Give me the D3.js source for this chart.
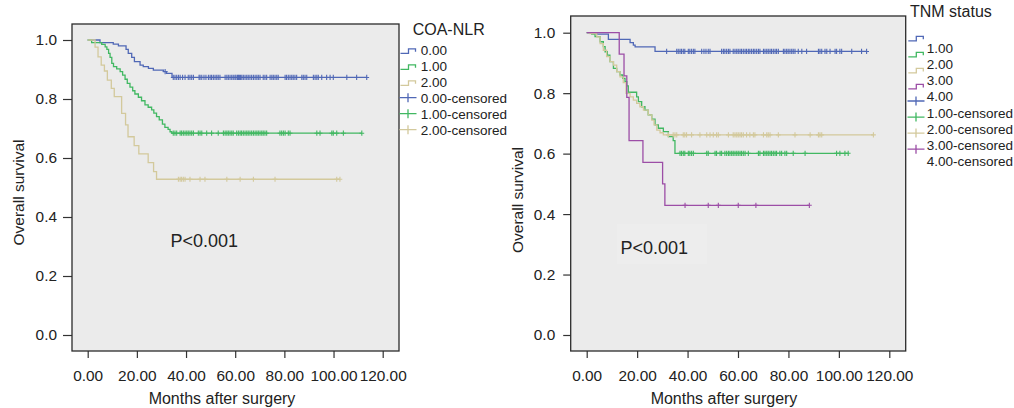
<!DOCTYPE html>
<html>
<head>
<meta charset="utf-8">
<script src="https://cdn.jsdelivr.net/npm/d3@7"></script>
<style>
  body { margin: 0; background: #fff; }
  svg { display: block; font-family: "Liberation Sans", Arial, sans-serif; }
</style>
</head>
<body>
<div id="chart"></div>
<script>
// axis ticks
const monthTicks = [0, 20, 40, 60, 80, 100, 120];
const survTicks = [0, 0.2, 0.4, 0.6, 0.8, 1.0];

// left panel: COA-NLR
const coaLabels = ["0.00", "1.00", "2.00"];
const coa0Time = [5.0, 10.4, 12.5, 15.6, 16.5, 17.9, 19.0, 21.3, 22.6, 24.7, 26.7, 30.8, 32.1, 34.3];
const coa0Surv = [0.991, 0.986, 0.980, 0.968, 0.955, 0.941, 0.927, 0.915, 0.910, 0.904, 0.898, 0.893, 0.887, 0.873];
const coa0Cens = [31.5, 34.8, 35.5, 36.2, 36.9, 37.6, 38.6, 39.6, 40.9, 41.6, 42.3, 43.0, 45.3, 45.7, 46.4, 47.3, 48.1, 49.1,
  49.8, 50.4, 51.1, 51.8, 52.5, 53.1, 53.8, 55.9, 56.6, 57.2, 57.9, 58.6, 59.2, 59.9, 60.3, 60.9, 61.3, 61.7, 62.2,
  62.7, 63.3, 64.0, 64.7, 65.3, 66.0, 66.7, 67.4, 68.1, 68.8, 69.4, 70.1, 71.4, 72.1, 72.8, 74.2, 74.9, 75.5, 76.2,
  76.9, 77.5, 80.3, 80.9, 81.6, 82.3, 83.0, 83.6, 84.3, 85.0, 87.1, 87.7, 88.4, 89.1, 91.8, 92.5, 93.2, 93.8, 95.2,
  97.2, 98.6, 99.9, 105.4, 109.4, 113.5];

const coa1Time = [1.6, 5.7, 7.1, 7.8, 8.5, 9.1, 9.8, 10.5, 11.8, 13.2, 14.2, 15.2, 16.1, 17.2, 18.3, 19.2, 20.6, 21.9,
  23.3, 24.6, 26.0, 26.9, 28.0, 29.1, 30.4, 31.4, 32.7, 33.5, 34.2];
const coa1Surv = [0.991, 0.985, 0.977, 0.968, 0.955, 0.941, 0.921, 0.910, 0.902, 0.893, 0.881, 0.867, 0.853, 0.840, 0.828,
  0.817, 0.806, 0.794, 0.780, 0.772, 0.763, 0.752, 0.740, 0.729, 0.715, 0.704, 0.697, 0.689, 0.684];
const coa1Cens = [34.8, 35.5, 36.2, 37.6, 38.2, 38.9, 39.6, 40.3, 40.9, 41.6, 42.3, 43.0, 45.0, 45.7, 46.4, 48.4, 50.4,
  53.1, 55.2, 55.9, 56.6, 57.2, 57.9, 58.6, 59.2, 60.6, 61.3, 62.0, 62.6, 63.3, 64.0, 64.7, 65.3, 66.0, 66.7, 67.4,
  68.1, 68.8, 69.4, 70.1, 70.8, 71.4, 72.1, 72.8, 78.2, 78.9, 79.6, 80.3, 81.6, 82.3, 93.2, 94.5, 99.3, 99.9, 101.3,
  104.0, 111.5];

const coa2Time = [3.0, 4.2, 5.5, 6.8, 8.0, 9.6, 10.8, 13.8, 15.4, 16.4, 18.9, 20.8, 24.6, 26.8, 28.0];
const coa2Surv = [0.976, 0.943, 0.915, 0.895, 0.864, 0.836, 0.808, 0.751, 0.712, 0.672, 0.642, 0.614, 0.584, 0.554, 0.528];
const coa2Cens = [36.9, 37.6, 38.2, 38.9, 39.6, 41.6, 45.7, 47.7, 56.6, 62.0, 67.4, 76.2, 101.3, 102.6];

// right panel: TNM status
const tnmLabels = ["1.00", "2.00", "3.00", "4.00"];
const tnm1Time = [4.0, 8.6, 17.2, 18.5, 19.2, 27.1];
const tnm1Surv = [0.995, 0.978, 0.967, 0.959, 0.953, 0.938];
const tnm1Cens = [31.7, 35.7, 36.3, 37.0, 37.6, 38.3, 38.9, 40.3, 40.9, 41.6, 42.3, 42.9, 45.6, 46.5, 47.3, 48.2, 48.9,
  53.5, 54.2, 54.8, 55.5, 56.2, 56.8, 58.1, 58.8, 59.5, 60.1, 60.8, 61.4, 62.1, 62.8, 63.4, 64.1, 64.7, 65.4, 66.1,
  66.7, 67.4, 68.1, 68.7, 70.1, 70.7, 71.4, 72.0, 72.7, 73.3, 74.0, 74.7, 75.3, 76.0, 78.0, 78.6, 79.3, 79.9, 80.6,
  81.3, 81.9, 82.6, 83.9, 85.3, 87.2, 91.9, 92.5, 93.2, 94.5, 95.2, 96.5, 98.5, 99.1, 100.4, 101.1, 105.1, 109.0, 111.0];

const tnm2Time = [2.0, 3.3, 5.3, 6.6, 7.3, 8.2, 9.2, 10.6, 11.9, 13.2, 14.3, 15.2, 15.9, 16.5, 19.8, 20.5, 21.8, 23.1,
  24.4, 25.8, 27.1, 28.4, 30.4, 32.4, 34.3, 35.0];
const tnm2Surv = [0.995, 0.987, 0.970, 0.954, 0.937, 0.926, 0.904, 0.882, 0.871, 0.860, 0.849, 0.838, 0.824, 0.803,
  0.788, 0.772, 0.755, 0.744, 0.728, 0.714, 0.695, 0.684, 0.673, 0.656, 0.643, 0.601];
const tnm2Cens = [37.0, 37.6, 38.3, 38.9, 40.3, 40.9, 41.6, 42.3, 47.6, 48.2, 50.9, 51.5, 52.9, 53.5, 54.8, 55.5, 56.2,
  56.8, 57.5, 58.1, 58.8, 59.5, 60.1, 60.8, 61.4, 62.1, 62.8, 64.1, 68.1, 68.7, 70.1, 70.7, 71.4, 72.0, 72.7, 73.3,
  74.0, 74.7, 75.3, 76.6, 77.3, 78.6, 79.3, 81.9, 86.6, 99.1, 100.4, 102.4, 103.7];

const tnm3Time = [1.3, 4.0, 5.3, 6.6, 7.9, 9.2, 10.6, 11.9, 13.2, 14.5, 15.6, 17.2, 18.5, 19.8, 21.1, 22.5, 24.4, 25.8,
  26.7, 27.8, 29.1, 30.4];
const tnm3Surv = [0.997, 0.986, 0.964, 0.942, 0.921, 0.904, 0.893, 0.871, 0.854, 0.835, 0.799, 0.788, 0.777, 0.766,
  0.755, 0.744, 0.728, 0.711, 0.695, 0.678, 0.669, 0.662];
const tnm3Cens = [32.4, 34.3, 35.0, 35.7, 38.3, 38.9, 39.6, 41.6, 44.9, 47.6, 48.9, 50.2, 51.5, 52.2, 56.2, 58.1, 58.8,
  59.5, 60.1, 60.8, 61.4, 62.1, 63.4, 64.7, 66.1, 66.7, 70.1, 71.4, 72.0, 72.7, 76.0, 82.6, 88.6, 91.9, 92.5, 93.2, 113.7];

const tnm4Time = [12.9, 14.8, 15.9, 16.8, 22.3, 30.1, 31.0];
const tnm4Surv = [0.929, 0.857, 0.786, 0.643, 0.571, 0.500, 0.429];
const tnm4Cens = [39.0, 48.2, 52.2, 60.1, 67.1, 88.3];

const colors = ["#5068b6", "#41b862", "#d3c99c", "#9c4ea6"];

const width = 1014;
const height = 408;

const svg = d3.select("#chart").append("svg")
  .attr("width", width)
  .attr("height", height);

function makeSeries(time, surv, cens, color) {
  return { time, surv, cens, color };
}

function survAt(s, t) {
  let v = 1;
  s.time.forEach((tt, i) => { if (tt <= t) v = s.surv[i]; });
  return v;
}

function drawPanel(opt) {
  const f = opt.frame;
  const x = d3.scaleLinear().domain([0, 120]).range(opt.xRange);
  const y = d3.scaleLinear().domain([0, 1]).range(opt.yRange);

  const g = svg.append("g");

  g.append("rect")
    .attr("x", f.x0).attr("y", f.y0)
    .attr("width", f.x1 - f.x0).attr("height", f.y1 - f.y0)
    .attr("fill", "#ebebeb");

  if (opt.pBox) {
    g.append("rect")
      .attr("x", opt.pBox[0]).attr("y", opt.pBox[1])
      .attr("width", opt.pBox[2]).attr("height", opt.pBox[3])
      .attr("fill", "#ededed");
  }

  const xAxis = g.append("g")
    .attr("transform", `translate(0,${f.y1})`)
    .call(d3.axisBottom(x).tickValues(monthTicks).tickFormat(d3.format(".2f"))
      .tickSize(7).tickPadding(12).tickSizeOuter(0));
  const yAxis = g.append("g")
    .attr("transform", `translate(${f.x0},0)`)
    .call(d3.axisLeft(y).tickValues(survTicks).tickFormat(d3.format(".1f"))
      .tickSize(opt.yTick).tickPadding(opt.yPad).tickSizeOuter(0));
  [xAxis, yAxis].forEach((a) => {
    a.select(".domain").remove();
    a.selectAll("line").attr("stroke", "#333").attr("stroke-width", 1.2);
    a.selectAll("text").attr("fill", "#222").style("font-size", "15.4px");
  });

  const line = d3.line()
    .x((d) => x(d[0]))
    .y((d) => y(d[1]))
    .curve(d3.curveStepAfter);

  opt.series.forEach((s) => {
    const pts = [[0, 1]];
    s.time.forEach((t, i) => pts.push([t, s.surv[i]]));
    const end = Math.max(d3.max(s.time), d3.max(s.cens));
    pts.push([end, s.surv[s.surv.length - 1]]);

    g.append("path")
      .datum(pts)
      .attr("fill", "none")
      .attr("stroke", s.color)
      .attr("stroke-width", 1.3)
      .attr("d", line);

    g.selectAll(null)
      .data(s.cens)
      .enter()
      .append("path")
      .attr("fill", "none")
      .attr("stroke", s.color)
      .attr("stroke-width", 1.1)
      .attr("d", (t) => {
        const cx = x(t), cy = y(survAt(s, t));
        return `M${cx},${cy - 2.6}V${cy + 2.6}M${cx - 2.4},${cy}H${cx + 2.4}`;
      });
  });

  g.append("rect")
    .attr("x", f.x0).attr("y", f.y0)
    .attr("width", f.x1 - f.x0).attr("height", f.y1 - f.y0)
    .attr("fill", "none")
    .attr("stroke", "#2b2b2b")
    .attr("stroke-width", 1.3);

  g.append("text")
    .attr("x", opt.xTitle[0]).attr("y", opt.xTitle[1])
    .attr("text-anchor", "middle")
    .attr("fill", "#222")
    .style("font-size", "16px")
    .text("Months after surgery");

  g.append("text")
    .attr("transform", `translate(${opt.yTitle[0]},${opt.yTitle[1]}) rotate(-90)`)
    .attr("text-anchor", "middle")
    .attr("fill", "#222")
    .style("font-size", "15.5px")
    .text("Overall survival");

  g.append("text")
    .attr("x", opt.pText[0]).attr("y", opt.pText[1])
    .attr("fill", "#222")
    .style("font-size", "18px")
    .text("P<0.001");
}

function stepSymbol(g, x0, yLow, color) {
  g.append("path")
    .attr("fill", "none")
    .attr("stroke", color)
    .attr("stroke-width", 1.3)
    .attr("d", `M${x0},${yLow}H${x0 + 8}V${yLow - 4.5}H${x0 + 15}V${yLow - 1.5}`);
}

function plusSymbol(g, x0, cy, color) {
  g.append("path")
    .attr("fill", "none")
    .attr("stroke", color)
    .attr("stroke-width", 1.3)
    .attr("d", `M${x0},${cy}H${x0 + 17}M${x0 + 8.5},${cy - 4.5}V${cy + 4.5}`);
}

// left panel
const coaSeries = [
  makeSeries(coa0Time, coa0Surv, coa0Cens, colors[0]),
  makeSeries(coa1Time, coa1Surv, coa1Cens, colors[1]),
  makeSeries(coa2Time, coa2Surv, coa2Cens, colors[2])
];
drawPanel({
  frame: { x0: 72, y0: 24, x1: 399, y1: 351 },
  xRange: [87.7, 382.7],
  yRange: [335, 40],
  yTick: 9, yPad: 6,
  xTitle: [222, 403.5],
  yTitle: [23.5, 192.5],
  pText: [170.5, 247.3],
  series: coaSeries
});

// right panel
const tnmSeries = [
  makeSeries(tnm1Time, tnm1Surv, tnm1Cens, colors[0]),
  makeSeries(tnm2Time, tnm2Surv, tnm2Cens, colors[1]),
  makeSeries(tnm3Time, tnm3Surv, tnm3Cens, colors[2]),
  makeSeries(tnm4Time, tnm4Surv, tnm4Cens, colors[3])
];
drawPanel({
  frame: { x0: 570.7, y0: 16, x1: 905.7, y1: 351 },
  xRange: [586.7, 889.3],
  yRange: [335, 32.7],
  yTick: 7.5, yPad: 8,
  xTitle: [724, 403.5],
  yTitle: [523, 200],
  pText: [620.5, 254],
  pBox: [617, 224, 90, 40],
  series: tnmSeries
});

// left legend
const legL = svg.append("g");
legL.append("text")
  .attr("x", 412.7).attr("y", 35)
  .attr("fill", "#222")
  .style("font-size", "16px")
  .text("COA-NLR");
coaLabels.forEach((lab, i) => {
  const base = 55 + i * 16;
  stepSymbol(legL, 400.5, base - 1.7, colors[i]);
  legL.append("text").attr("x", 420.7).attr("y", base)
    .attr("fill", "#222").style("font-size", "13.5px").text(lab);
});
coaLabels.forEach((lab, i) => {
  const base = 55 + (i + 3) * 16;
  plusSymbol(legL, 399.5, base - 5.3, colors[i]);
  legL.append("text").attr("x", 420.7).attr("y", base)
    .attr("fill", "#222").style("font-size", "13.5px").text(lab + "-censored");
});

// right legend
const legR = svg.append("g");
legR.append("text")
  .attr("x", 910).attr("y", 17.3)
  .attr("fill", "#222")
  .style("font-size", "16px")
  .text("TNM status");
tnmLabels.forEach((lab, i) => {
  const base = 53.3 + i * 16.05;
  stepSymbol(legR, 908.3, base - 12.5, colors[i]);
  legR.append("text").attr("x", 926.7).attr("y", base)
    .attr("fill", "#222").style("font-size", "13.5px").text(lab);
});
tnmLabels.forEach((lab, i) => {
  const base = 53.3 + (i + 4) * 16.05;
  plusSymbol(legR, 907.5, base - 16.5, colors[i]);
  legR.append("text").attr("x", 926.7).attr("y", base)
    .attr("fill", "#222").style("font-size", "13.5px").text(lab + "-censored");
});
</script>
</body>
</html>
